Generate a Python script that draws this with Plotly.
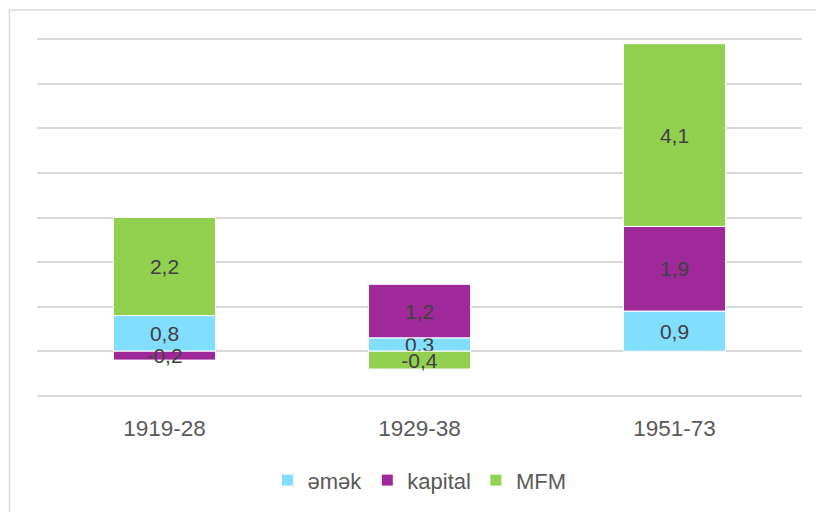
import plotly.graph_objects as go

categories = ["1919-28", "1929-38", "1951-73"]
emek = [0.8, 0.3, 0.9]
kapital = [-0.2, 1.2, 1.9]
mfm = [2.2, -0.4, 4.1]
series_names = ["əmək", "kapital", "MFM"]
colors = ["#82DEFF", "#A0299A", "#92D050"]

FONT = "Liberation Sans, Arial, sans-serif"
TXT = "#404040"
TICK = "#595959"

fig = go.Figure()
for name, vals, col in zip(series_names, [emek, kapital, mfm], colors):
    fig.add_trace(go.Bar(
        x=categories, y=vals, name=name,
        marker=dict(color=col, line=dict(color="white", width=1)),
        texttemplate="%{y:.1f}", textposition="inside",
        insidetextanchor="middle", textangle=0,
        textfont=dict(family=FONT, size=21, color=TXT),
        cliponaxis=False,
    ))

fig.update_layout(
    barmode="relative",
    bargap=0.6,
    separators=",.",
    width=824, height=512,
    margin=dict(l=29, r=30, t=29, b=122, autoexpand=False),
    paper_bgcolor="white", plot_bgcolor="white",
    font=dict(family=FONT, color=TICK),
    uniformtext=dict(minsize=21, mode="show"),
    xaxis=dict(showline=False, showgrid=False, ticks="",
               ticklabelstandoff=14,
               tickfont=dict(family=FONT, size=22.5, color=TICK)),
    yaxis=dict(range=[-1.05, 7.05], dtick=1, showticklabels=False,
               showgrid=True, gridcolor="#D9D9D9", gridwidth=1.5,
               zeroline=False, showline=False, fixedrange=True),
    legend=dict(orientation="h", x=0.5, xanchor="center", y=-0.228,
                yanchor="middle", font=dict(family=FONT, size=22, color=TICK),
                itemwidth=30, traceorder="normal"),
    showlegend=True,
)
fig.add_shape(type="rect", xref="paper", yref="paper",
              x0=-0.036, x1=1.2, y0=-0.6, y1=1.075,
              line=dict(color="#D9D9D9", width=1.5), layer="below")

fig.write_html("out.html")
